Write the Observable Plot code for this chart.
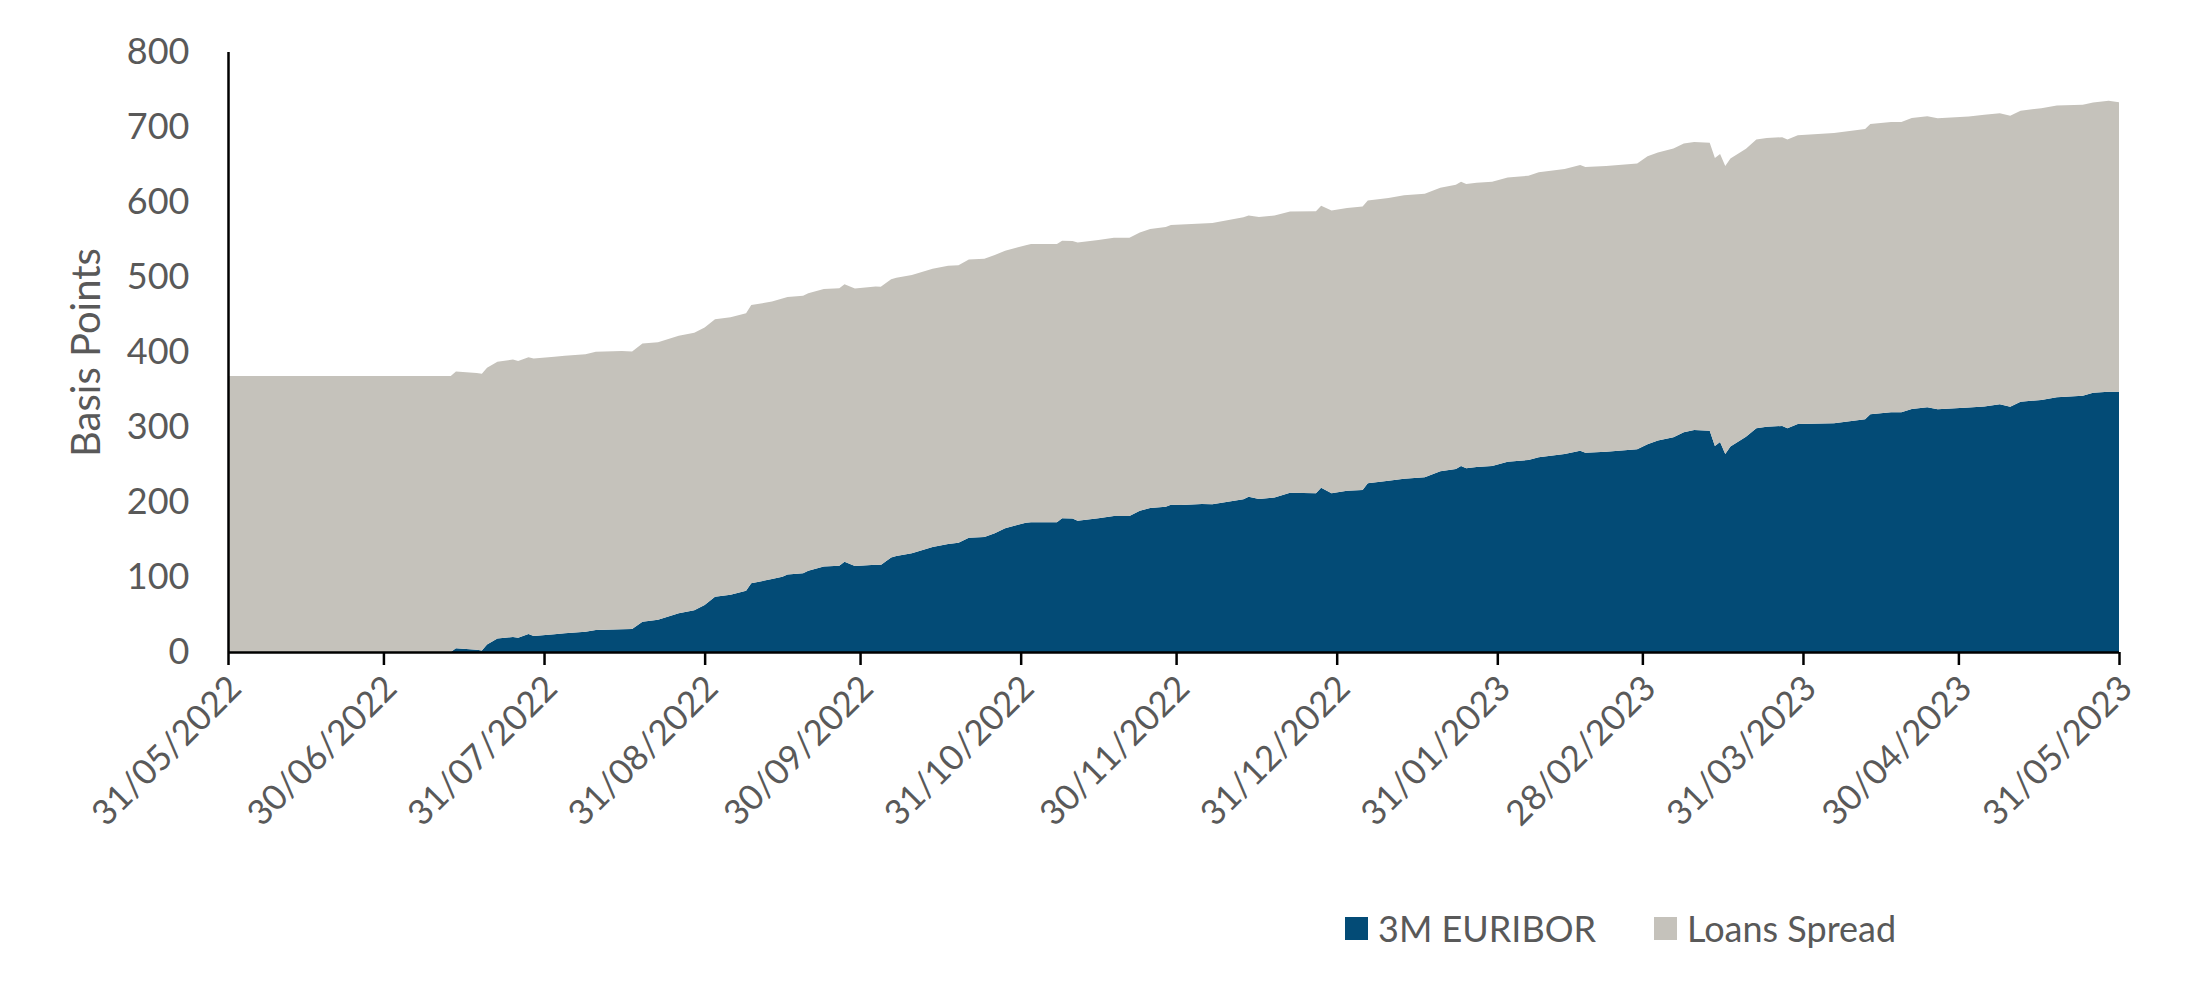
<!DOCTYPE html>
<html>
<head>
<meta charset="utf-8">
<script src="https://cdn.jsdelivr.net/npm/d3@7"></script>
<script src="https://cdn.jsdelivr.net/npm/@observablehq/plot@0.6"></script>
<style>
  html, body { margin: 0; padding: 0; background: #ffffff; }
  #wrap { position: relative; width: 2206px; height: 990px; overflow: hidden; }
  .legend-item { position: absolute; display: flex; align-items: center; height: 36px;
    font-family: Lato, "Open Sans", sans-serif; font-size: 36px; color: #595959; line-height: 36px; white-space: nowrap; }
  .legend-swatch { width: 23px; height: 23px; margin-right: 10px; display: inline-block; }
</style>
</head>
<body>
<div id="wrap"></div>
<script>
// ---- Data ----
const seriesNames = ["3M EURIBOR", "Loans Spread"];
const seriesColors = ["#034b76", "#c5c2bb"];

const dates = [
  "2022-05-31","2022-07-13","2022-07-14","2022-07-18","2022-07-19","2022-07-20","2022-07-22","2022-07-25",
  "2022-07-26","2022-07-28","2022-07-29","2022-08-02","2022-08-04","2022-08-08","2022-08-10","2022-08-15",
  "2022-08-17","2022-08-19","2022-08-22","2022-08-26","2022-08-29","2022-08-31","2022-09-02","2022-09-05",
  "2022-09-08","2022-09-09","2022-09-13","2022-09-15","2022-09-16","2022-09-19","2022-09-20","2022-09-23",
  "2022-09-26","2022-09-27","2022-09-29","2022-10-03","2022-10-04","2022-10-06","2022-10-07","2022-10-10",
  "2022-10-14","2022-10-17","2022-10-19","2022-10-21","2022-10-24","2022-10-26","2022-10-28","2022-11-01",
  "2022-11-02","2022-11-07","2022-11-08","2022-11-10","2022-11-11","2022-11-15","2022-11-18","2022-11-21",
  "2022-11-23","2022-11-25","2022-11-28","2022-11-29","2022-12-01","2022-12-05","2022-12-07","2022-12-13",
  "2022-12-14","2022-12-16","2022-12-19","2022-12-22","2022-12-27","2022-12-28","2022-12-30","2023-01-02",
  "2023-01-05","2023-01-06","2023-01-10","2023-01-13","2023-01-17","2023-01-20","2023-01-23","2023-01-24",
  "2023-01-25","2023-01-27","2023-01-30","2023-02-02","2023-02-06","2023-02-08","2023-02-13","2023-02-16",
  "2023-02-17","2023-02-21","2023-02-27","2023-03-01","2023-03-03","2023-03-06","2023-03-08","2023-03-10",
  "2023-03-13","2023-03-14","2023-03-15","2023-03-16","2023-03-17","2023-03-20","2023-03-22","2023-03-24",
  "2023-03-27","2023-03-28","2023-03-30","2023-04-06","2023-04-12","2023-04-13","2023-04-17","2023-04-19",
  "2023-04-21","2023-04-24","2023-04-26","2023-05-02","2023-05-05","2023-05-08","2023-05-10","2023-05-12",
  "2023-05-16","2023-05-19","2023-05-24","2023-05-26","2023-05-29","2023-05-31"
];

const euribor = [
  0, 0, 5, 3, 2, 10, 18, 20,
  19, 24, 21.5, 23.6, 25, 27, 29.3, 30.5,
  30.7, 40.4, 43.1, 51.6, 55.6, 62.7, 73.8, 76.5,
  81.8, 91.6, 97.3, 100.4, 103.5, 105, 108.4, 114,
  115, 120.4, 114.7, 116.5, 116, 126, 128, 131.6,
  140, 144, 145.8, 152.4, 153.3, 158.2, 164.9, 172.4,
  173, 172.9, 178.2, 178, 175.1, 178.5, 181.5, 181.3,
  188.4, 192, 193.8, 196.4, 196, 197.3, 197, 203.6,
  207.1, 204, 206, 212.4, 211.6, 219.1, 211.6, 215,
  216, 224.9, 228.5, 231.1, 232.9, 241, 244, 248,
  244.9, 246.7, 248, 253.8, 256, 259.6, 264, 268.4,
  265.8, 267, 270.2, 277, 282, 286.2, 292.9, 296,
  295.1, 274.7, 280, 264, 274, 287, 298.2, 300.5,
  301.3, 298.2, 304, 305, 310.2, 316.9, 319.6, 319.6,
  324, 326.2, 323.6, 326, 327.5, 330.2, 327.1, 333.8,
  336, 339.6, 341.8, 345.8, 347, 347
];

const spread = [
  368, 368, 369, 369, 369, 369, 369, 370,
  369, 369, 370, 370, 370, 370, 371, 371,
  370, 371, 370, 370, 370, 370, 370, 370,
  370, 371, 370, 371, 370, 370, 370, 370,
  370, 370, 370, 371, 371, 371, 371, 371,
  371, 371, 370, 371, 371, 371, 370, 370,
  371, 371, 370, 370, 371, 371, 371, 371,
  371, 372, 373, 373, 374, 374, 375, 376,
  375, 376, 376, 375, 376, 376, 377, 377,
  378, 377, 377, 378, 378, 378, 379, 379,
  379, 379, 379, 379, 379, 380, 380, 381,
  381, 381, 381, 384, 384, 385, 385, 384,
  384, 384, 384, 384, 384, 384, 385, 385,
  385, 385, 385, 387, 387, 387, 387, 387,
  388, 388, 388, 388, 389, 388, 388, 388,
  389, 389, 388, 387, 388, 386
];

const xTickDates = [
  "2022-05-31","2022-06-30","2022-07-31","2022-08-31","2022-09-30","2022-10-31","2022-11-30",
  "2022-12-31","2023-01-31","2023-02-28","2023-03-31","2023-04-30","2023-05-31"
];
const yTicks = [0, 100, 200, 300, 400, 500, 600, 700, 800];
const yLabel = "Basis Points";

// ---- Build table for the library ----
const parse = d3.utcParse("%Y-%m-%d");
const table = [];
dates.forEach((d, i) => {
  table.push({date: parse(d), series: seriesNames[0], value: euribor[i]});
  table.push({date: parse(d), series: seriesNames[1], value: spread[i]});
});
const tickDates = xTickDates.map(parse);
const font = 'Lato, "Open Sans", sans-serif';

const chart = Plot.plot({
  width: 2206,
  height: 880,
  marginLeft: 228,
  marginRight: 87,
  marginTop: 52,
  marginBottom: 228,
  style: {fontFamily: font, fontSize: "36px", color: "#595959", background: "#ffffff", overflow: "visible"},
  x: {type: "utc", domain: [tickDates[0], tickDates[tickDates.length - 1]]},
  y: {domain: [0, 800]},
  color: {domain: seriesNames, range: seriesColors},
  marks: [
    Plot.areaY(table, {x: "date", y: "value", fill: "series", order: seriesNames, curve: "linear"}),
    Plot.axisY({ticks: yTicks, tickSize: 0, tickPadding: 39, fontSize: 36, fill: "#595959", label: null}),
    // tick marks only
    Plot.axisX({ticks: tickDates, tickFormat: () => "", tickSize: 13, stroke: "#000000", strokeWidth: 2.5, label: null}),
    // rotated tick labels only
    Plot.axisX({ticks: tickDates, tickFormat: d3.utcFormat("%d/%m/%Y"), tickRotate: -45, tickSize: 0,
      tickPadding: 30, dx: 7, fill: "#595959", fontSize: 35, label: null}),
    Plot.ruleY([0], {stroke: "#000000", strokeWidth: 2.5}),
    Plot.ruleX([tickDates[0]], {y1: 0, y2: 800, stroke: "#000000", strokeWidth: 2.5}),
    Plot.text([yLabel], {text: d => d, x: tickDates[0], y: 400, rotate: -90, dx: -141,
      textAnchor: "middle", lineAnchor: "middle", fontSize: 40, fill: "#595959"})
  ]
});

const wrap = document.getElementById("wrap");
wrap.appendChild(chart);

// Legend below the plot
const legendLeft = [1345, 1654];
seriesNames.forEach((name, i) => {
  const item = document.createElement("div");
  item.className = "legend-item";
  item.style.left = legendLeft[i] + "px";
  item.style.top = "910px";
  const sw = document.createElement("span");
  sw.className = "legend-swatch";
  sw.style.background = seriesColors[i];
  const label = document.createElement("span");
  label.textContent = name;
  item.appendChild(sw);
  item.appendChild(label);
  wrap.appendChild(item);
});
</script>
</body>
</html>
